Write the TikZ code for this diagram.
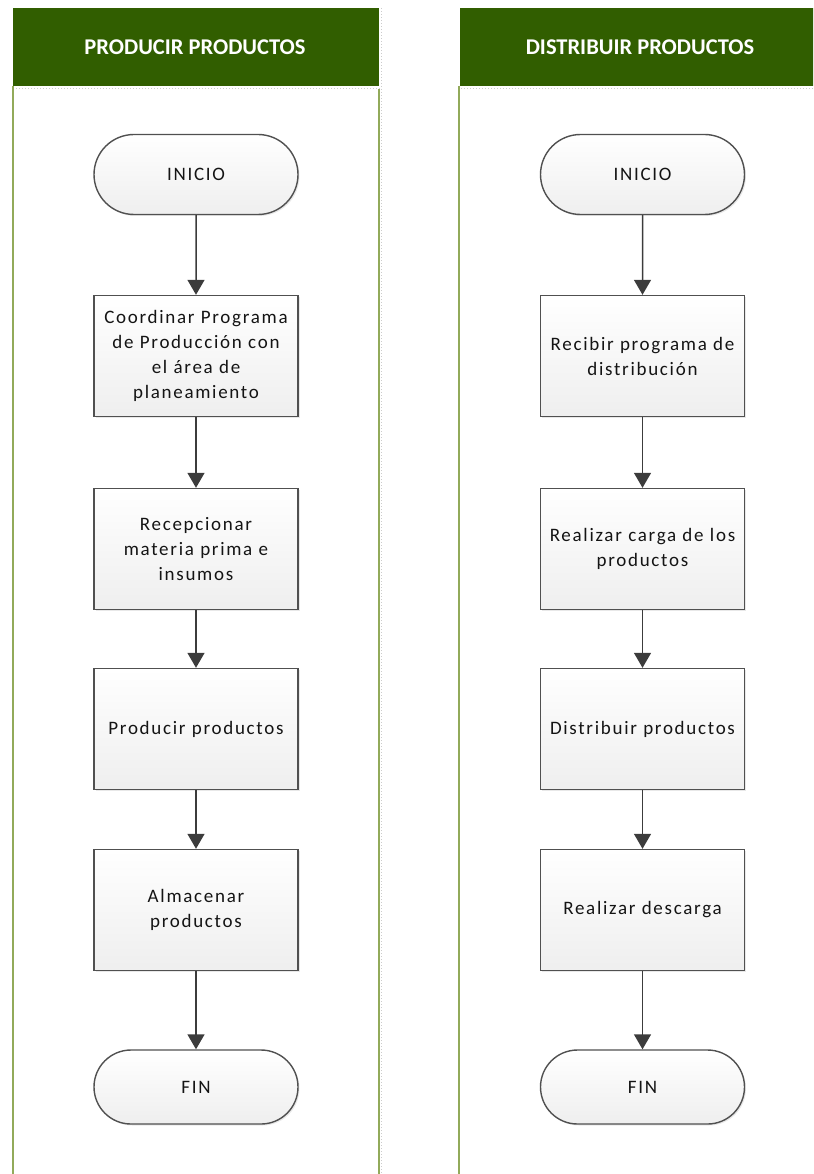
\documentclass[tikz,border=0pt]{standalone}
\usepackage{fontspec}
\setmainfont{Carlito}
\newfontfamily\boxfont{Carlito}[LetterSpace=9]
\usetikzlibrary{arrows.meta,shapes.misc,shadows}
\definecolor{headgreen}{RGB}{49,94,0}
\definecolor{lanegreen}{RGB}{146,170,90}
\definecolor{edgegray}{RGB}{80,80,80}
\definecolor{flowgray}{RGB}{60,60,60}
\begin{document}
\begin{tikzpicture}[x=1pt,y=-1pt,
  laneline/.style={draw=lanegreen, line width=1.4pt},
  lanedot/.style={draw=gray!40, line width=1pt, dotted},
  headtext/.style={text=white, font=\fontsize{22.5}{26}\selectfont\bfseries},
  boxbase/.style={draw=edgegray, line width=1.4pt, top color=white, bottom color=gray!13,
    inner sep=0pt, text=black!92, font=\boxfont\fontsize{19}{25}\selectfont,
    drop shadow={shadow xshift=1.5pt, shadow yshift=-1.5pt, fill=gray!35}},
  proc/.style={boxbase, rectangle, minimum width=204pt, minimum height=121pt,
    text width=200pt, align=center},
  term/.style={boxbase, rounded rectangle, minimum width=204pt, minimum height=80pt},
  flow/.style={draw=flowgray, line width=1.5pt, -{Triangle[width=17pt,length=15pt]}}
]
\useasboundingbox (0,0) rectangle (813,1174);
\begin{scope}
\clip (0,0) rectangle (813,1174);

% swimlane: producir
\fill[headgreen] (13,8) rectangle (379,86);
\draw[lanedot] (381,8) -- (381,1174);
\draw[lanedot] (13,89) -- (381,89);
\draw[laneline] (13,86) -- (13,1174);
\draw[laneline] (379,89) -- (379,1174);

% swimlane: distribuir
\fill[headgreen] (460,8) rectangle (822,86);
\draw[lanedot] (461,89) -- (822,89);
\draw[laneline] (459,86) -- (459,1174);
\end{scope}

\node[headtext] (ph) at (195,47) {PRODUCIR PRODUCTOS};
\node[headtext] (dh) at (640,47) {DISTRIBUIR PRODUCTOS};

% producir productos
\node[term] (pi) at (196,174.5) {INICIO};
\node[proc] (p1) at (196,356) {Coordinar Programa\\de Producción con\\el área de\\planeamiento};
\node[proc] (p2) at (196,549) {Recepcionar\\materia prima e\\insumos};
\node[proc] (p3) at (196,729) {Producir productos};
\node[proc] (p4) at (196,910) {Almacenar\\productos};
\node[term, minimum height=74pt] (pf) at (196,1087) {FIN};

% distribuir productos
\node[term] (di) at (642.5,174.5) {INICIO};
\node[proc] (d1) at (642.5,356) {Recibir programa de\\distribución};
\node[proc] (d2) at (642.5,549) {Realizar carga de los\\productos};
\node[proc] (d3) at (642.5,729) {Distribuir productos};
\node[proc] (d4) at (642.5,910) {Realizar descarga};
\node[term, minimum height=74pt] (df) at (642.5,1087) {FIN};

\draw[flow] (pi) -- (p1);
\draw[flow] (p1) -- (p2);
\draw[flow] (p2) -- (p3);
\draw[flow] (p3) -- (p4);
\draw[flow] (p4) -- (pf);

\draw[flow] (di) -- (d1);
\draw[flow] (d1) -- (d2);
\draw[flow] (d2) -- (d3);
\draw[flow] (d3) -- (d4);
\draw[flow] (d4) -- (df);
\end{tikzpicture}
\end{document}
